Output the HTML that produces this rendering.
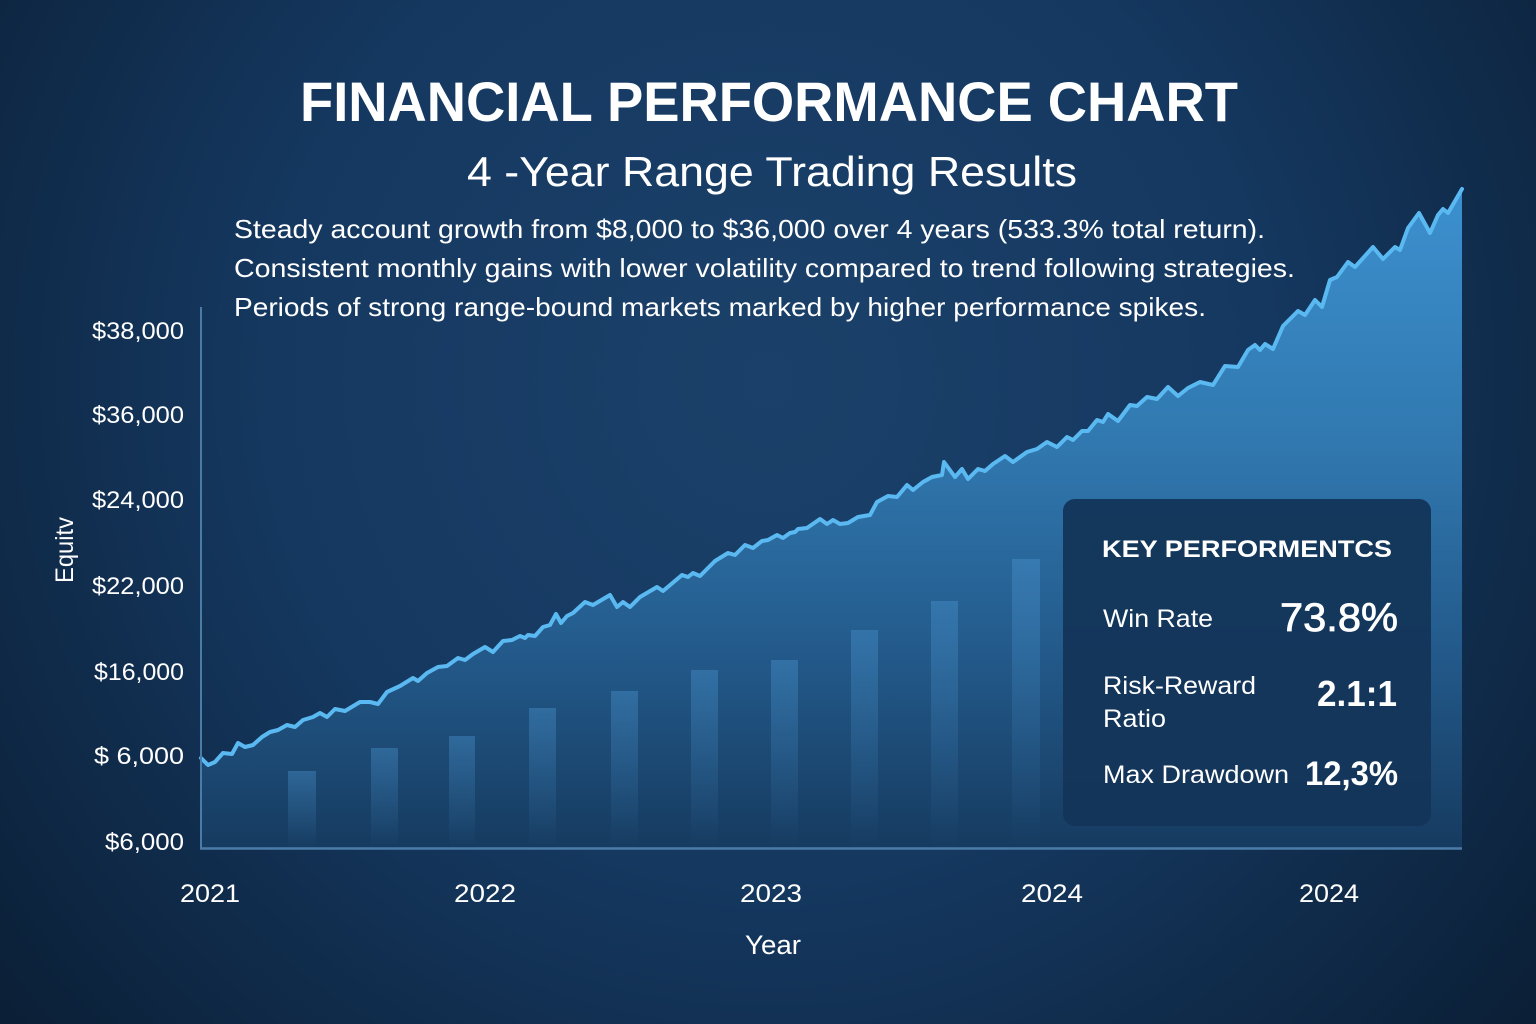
<!DOCTYPE html>
<html><head><meta charset="utf-8"><style>
html,body{margin:0;padding:0;background:#0f2b47;}
svg{display:block;}
text{font-family:"Liberation Sans",sans-serif;fill:#fff;}
</style></head><body>
<svg width="1536" height="1024" viewBox="0 0 1536 1024" xmlns="http://www.w3.org/2000/svg">
<defs>
<radialGradient id="bg" cx="768" cy="380" r="1000" gradientUnits="userSpaceOnUse">
<stop offset="0" stop-color="#1b416a"/>
<stop offset="0.5" stop-color="#153860"/>
<stop offset="1" stop-color="#0b1f36"/>
</radialGradient>
<linearGradient id="fill" x1="0" y1="190" x2="0" y2="848" gradientUnits="userSpaceOnUse">
<stop offset="0" stop-color="#3c90cf"/>
<stop offset="0.4" stop-color="#3077ae"/>
<stop offset="0.7" stop-color="#235a8b"/>
<stop offset="1" stop-color="#163b60"/>
</linearGradient>
<linearGradient id="bar" x1="0" y1="0" x2="0" y2="1">
<stop offset="0" stop-color="#4d98d4" stop-opacity="0.38"/>
<stop offset="1" stop-color="#4d98d4" stop-opacity="0"/>
</linearGradient>
</defs>
<rect width="1536" height="1024" fill="url(#bg)"/>

<!-- area fill -->
<path fill="url(#fill)" d="M201,758 L208,765 215,762 223,753 232,754 238,743 245,747 253,745 262,737 270,732 278,730 287,725 295,727 303,720 313,717 320,713 327,717 335,709 345,711 360,702 370,702 378,704 387,692 400,686 413,678 418,681 427,673 438,667 447,666 458,658 465,660 473,654 485,647 493,652 503,641 512,640 520,636 525,638 528,635 535,636 543,627 550,625 556,614 561,623 567,616 573,613 585,602 593,605 610,595 617,607 623,602 630,607 640,597 657,587 663,591 682,575 688,577 693,573 700,576 715,561 728,553 735,555 745,545 753,548 762,541 768,540 777,535 783,538 790,533 795,532 798,529 807,528 820,519 827,524 833,520 840,524 848,523 858,517 870,515 877,502 888,496 897,497 907,485 913,490 923,482 932,477 942,475 944,462 955,477 962,469 968,479 978,469 985,471 993,464 1005,456 1013,462 1027,452 1037,449 1047,442 1057,447 1067,437 1073,440 1082,431 1088,431 1097,420 1103,422 1108,414 1118,421 1130,405 1137,406 1147,397 1157,399 1168,387 1178,396 1188,388 1200,382 1213,385 1225,366 1238,367 1248,350 1255,345 1260,350 1265,344 1273,349 1283,326 1298,311 1305,315 1315,300 1322,307 1330,280 1337,277 1348,262 1355,267 1373,247 1383,259 1395,247 1400,250 1408,228 1419,213 1430,233 1438,215 1443,209 1448,213 1462,189 L1462,848 L201,848 Z"/>

<!-- bars -->
<rect x="288" y="771" width="28" height="77" fill="url(#bar)"/>
<rect x="371" y="748" width="27" height="100" fill="url(#bar)"/>
<rect x="449" y="736" width="26" height="112" fill="url(#bar)"/>
<rect x="529" y="708" width="27" height="140" fill="url(#bar)"/>
<rect x="611" y="691" width="27" height="157" fill="url(#bar)"/>
<rect x="691" y="670" width="27" height="178" fill="url(#bar)"/>
<rect x="771" y="660" width="27" height="188" fill="url(#bar)"/>
<rect x="851" y="630" width="27" height="218" fill="url(#bar)"/>
<rect x="931" y="601" width="27" height="247" fill="url(#bar)"/>
<rect x="1012" y="559" width="28" height="289" fill="url(#bar)"/>

<!-- line -->
<polyline fill="none" stroke="#5bb9f2" stroke-width="4" stroke-linejoin="round" stroke-linecap="round" points="201,758 208,765 215,762 223,753 232,754 238,743 245,747 253,745 262,737 270,732 278,730 287,725 295,727 303,720 313,717 320,713 327,717 335,709 345,711 360,702 370,702 378,704 387,692 400,686 413,678 418,681 427,673 438,667 447,666 458,658 465,660 473,654 485,647 493,652 503,641 512,640 520,636 525,638 528,635 535,636 543,627 550,625 556,614 561,623 567,616 573,613 585,602 593,605 610,595 617,607 623,602 630,607 640,597 657,587 663,591 682,575 688,577 693,573 700,576 715,561 728,553 735,555 745,545 753,548 762,541 768,540 777,535 783,538 790,533 795,532 798,529 807,528 820,519 827,524 833,520 840,524 848,523 858,517 870,515 877,502 888,496 897,497 907,485 913,490 923,482 932,477 942,475 944,462 955,477 962,469 968,479 978,469 985,471 993,464 1005,456 1013,462 1027,452 1037,449 1047,442 1057,447 1067,437 1073,440 1082,431 1088,431 1097,420 1103,422 1108,414 1118,421 1130,405 1137,406 1147,397 1157,399 1168,387 1178,396 1188,388 1200,382 1213,385 1225,366 1238,367 1248,350 1255,345 1260,350 1265,344 1273,349 1283,326 1298,311 1305,315 1315,300 1322,307 1330,280 1337,277 1348,262 1355,267 1373,247 1383,259 1395,247 1400,250 1408,228 1419,213 1430,233 1438,215 1443,209 1448,213 1462,189"/>

<!-- axes -->
<line x1="201" y1="307" x2="201" y2="849" stroke="#4b7ca8" stroke-width="2"/>
<line x1="200" y1="848.5" x2="1462" y2="848.5" stroke="#4b7ca8" stroke-width="2.5"/>

<!-- panel -->
<rect x="1063" y="499" width="368" height="327" rx="12" ry="12" fill="#14355a" fill-opacity="0.96"/>
<text x="1102" y="557" font-size="24" font-weight="bold" textLength="290" lengthAdjust="spacingAndGlyphs">KEY PERFORMENTCS</text>
<text x="1103" y="627" font-size="25" textLength="110" lengthAdjust="spacingAndGlyphs">Win Rate</text>
<text x="1398" y="631" font-size="40" text-anchor="end" stroke="#fff" stroke-width="0.8" textLength="118" lengthAdjust="spacingAndGlyphs">73.8%</text>
<text x="1103" y="694" font-size="25" textLength="153" lengthAdjust="spacingAndGlyphs">Risk-Reward</text>
<text x="1103" y="727" font-size="25" textLength="63" lengthAdjust="spacingAndGlyphs">Ratio</text>
<text x="1397" y="706" font-size="36" font-weight="bold" text-anchor="end" textLength="80" lengthAdjust="spacingAndGlyphs">2.1:1</text>
<text x="1103" y="783" font-size="25" textLength="186" lengthAdjust="spacingAndGlyphs">Max Drawdown</text>
<text x="1398" y="785" font-size="34" font-weight="bold" text-anchor="end" textLength="93" lengthAdjust="spacingAndGlyphs">12,3%</text>

<!-- titles -->
<text x="300" y="121" font-size="56" font-weight="bold" textLength="938" lengthAdjust="spacingAndGlyphs">FINANCIAL PERFORMANCE CHART</text>
<text x="467" y="186" font-size="42" textLength="610" lengthAdjust="spacingAndGlyphs">4 -Year Range Trading Results</text>
<text x="234" y="238" font-size="26" textLength="1031" lengthAdjust="spacingAndGlyphs">Steady account growth from $8,000 to $36,000 over 4 years (533.3% total return).</text>
<text x="234" y="277" font-size="26" textLength="1061" lengthAdjust="spacingAndGlyphs">Consistent monthly gains with lower volatility compared to trend following strategies.</text>
<text x="234" y="316" font-size="26" textLength="972" lengthAdjust="spacingAndGlyphs">Periods of strong range-bound markets marked by higher performance spikes.</text>

<!-- y ticks -->
<g font-size="24" text-anchor="end">
<text x="184" y="339" textLength="92" lengthAdjust="spacingAndGlyphs">$38,000</text>
<text x="184" y="423" textLength="92" lengthAdjust="spacingAndGlyphs">$36,000</text>
<text x="184" y="508" textLength="92" lengthAdjust="spacingAndGlyphs">$24,000</text>
<text x="184" y="594" textLength="92" lengthAdjust="spacingAndGlyphs">$22,000</text>
<text x="184" y="680" textLength="90" lengthAdjust="spacingAndGlyphs">$16,000</text>
<text x="184" y="764" textLength="90" lengthAdjust="spacingAndGlyphs">$  6,000</text>
<text x="184" y="850" textLength="79" lengthAdjust="spacingAndGlyphs">$6,000</text>
</g>
<text transform="translate(73,550) rotate(-90)" font-size="25" text-anchor="middle" textLength="66" lengthAdjust="spacingAndGlyphs">Equitv</text>

<!-- x ticks -->
<g font-size="25" text-anchor="middle">
<text x="210" y="902" textLength="60" lengthAdjust="spacingAndGlyphs">2021</text>
<text x="485" y="902" textLength="62" lengthAdjust="spacingAndGlyphs">2022</text>
<text x="771" y="902" textLength="62" lengthAdjust="spacingAndGlyphs">2023</text>
<text x="1052" y="902" textLength="62" lengthAdjust="spacingAndGlyphs">2024</text>
<text x="1329" y="902" textLength="60" lengthAdjust="spacingAndGlyphs">2024</text>
</g>
<text x="773" y="954" font-size="27" text-anchor="middle" textLength="56" lengthAdjust="spacingAndGlyphs">Year</text>
</svg>
</body></html>
